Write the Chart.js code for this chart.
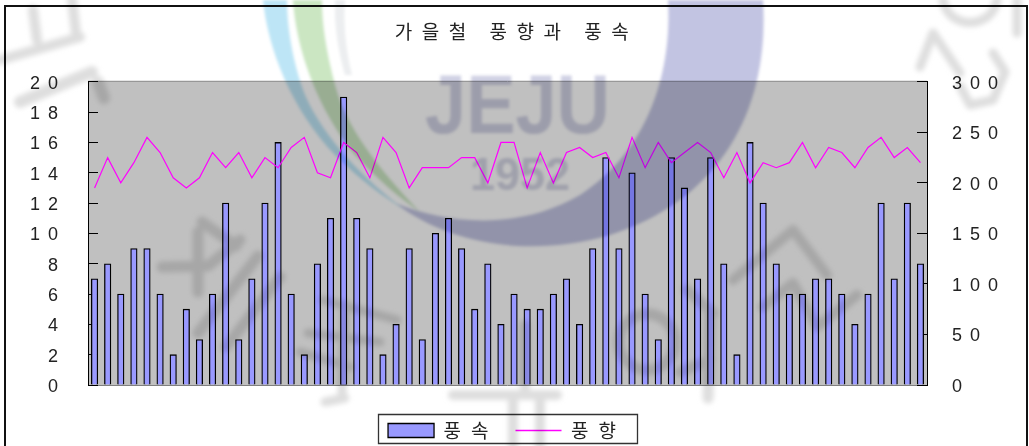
<!DOCTYPE html>
<html lang="ko">
<head>
<meta charset="utf-8">
<title>가을철 풍향과 풍속</title>
<script src="https://cdn.jsdelivr.net/npm/chart.js@4/dist/chart.umd.min.js"></script>
<style>
  html, body { margin: 0; padding: 0; background: #fff; overflow: hidden; }
  #stage { position: relative; width: 1029px; height: 446px; overflow: hidden; }
  #chart { position: absolute; left: 0; top: 0; }
  #seal { position: absolute; left: 0; top: 0; mix-blend-mode: multiply; pointer-events: none; }
</style>
</head>
<body>
<div id="stage">
  <canvas id="chart" width="1029" height="446"></canvas>
  <!-- University seal printed across the whole page -->
  <svg id="seal" width="1029" height="446" viewBox="0 0 1029 446">
    <defs>
      <filter id="soft" x="-5%" y="-5%" width="110%" height="110%"><feGaussianBlur stdDeviation="1.5"/></filter>
      <filter id="softer" x="-5%" y="-5%" width="110%" height="110%"><feGaussianBlur stdDeviation="2.8"/></filter>
    </defs>
    <g filter="url(#soft)">
      <path d="M668 0 C672 70 650 150 580 195 C520 230 450 225 395 203 C450 245 530 258 610 235 C720 200 770 110 763 0 Z" fill="#c2c4e2"/>
      <path d="M263 0 C268 50 292 110 335 155 C360 180 385 198 405 210 C365 180 325 140 305 95 C292 60 287 25 287 0 Z" fill="#bde5f6"/>
      <path d="M293 0 C296 50 318 110 355 155 C378 180 400 198 420 212 C390 180 348 135 335 85 C326 50 322 25 322 0 Z" fill="#cbe6c2"/>
      <path d="M335 0 C334 25 338 50 345 75 L352 75 C346 50 343 25 345 0 Z" fill="#eceef0"/>
      <text x="425" y="133" font-family="Liberation Sans" font-weight="700" font-size="84" textLength="185" lengthAdjust="spacingAndGlyphs" fill="#d0d1e4">JEJU</text>
      <text x="470" y="190" font-family="Liberation Sans" font-weight="700" font-size="46" textLength="100" lengthAdjust="spacingAndGlyphs" fill="#d4d5e4">1952</text>
    </g>
    <g filter="url(#softer)" fill="none" stroke="#dedede" stroke-linecap="round" stroke-linejoin="round">
      <path stroke-width="10" d="M33 10 L37 40 M0 60 L80 37 M72 0 L76 33"/>
      <path stroke-width="12" d="M20 102 L92 72 M98 82 L104 98"/>
      <path stroke-width="11" d="M202 222 L236 246 M162 267 L208 266 L240 240 M198 232 L198 292"/>
      <path stroke-width="11" d="M258 256 L198 333 M280 277 L226 347"/>
      <path stroke-width="9" d="M323 300 L397 320 M308 333 L380 342 M300 352 L350 367 M325 402 L345 398 M345 304 L342 395"/>
      <path stroke-width="10" d="M453 395 L557 395 M513 395 L513 446 M540 395 L540 446 M525 325 L525 390"/>
      <circle cx="647" cy="342" r="28" stroke-width="11"/>
      <path stroke-width="10" d="M733 280 L793 230 L827 275 M763 307 L793 283 L817 327 L857 295"/>
      <path stroke-width="11" d="M687 290 L713 313 M710 310 L708 398 M680 372 L710 360"/>
      <path stroke-width="9" d="M920 67 L933 33 L960 73 M993 53 L1005 72 L993 100 L970 105 L960 86"/>
      <path stroke-width="9" d="M943 0 C948 30 992 30 997 0 M1017 0 L1017 33"/>
    </g>
  </svg>
</div>
<script>
const categories = [
  1, 2, 3, 4, 5, 6, 7, 8, 9, 10, 11, 12, 13, 14, 15, 16,
  17, 18, 19, 20, 21, 22, 23, 24, 25, 26, 27, 28, 29, 30, 31, 32,
  33, 34, 35, 36, 37, 38, 39, 40, 41, 42, 43, 44, 45, 46, 47, 48,
  49, 50, 51, 52, 53, 54, 55, 56, 57, 58, 59, 60, 61, 62, 63, 64
];
const windSpeed = [
  7, 8, 6, 9, 9, 6, 2, 5, 3, 6, 12, 3, 7, 12, 16, 6,
  2, 8, 11, 19, 11, 9, 2, 4, 9, 3, 10, 11, 9, 5, 8, 4,
  6, 5, 5, 6, 7, 4, 9, 15, 9, 14, 6, 3, 15, 13, 7, 15,
  8, 2, 16, 12, 8, 6, 6, 7, 7, 6, 4, 6, 12, 7, 12, 8
];
const windDirection = [
  195, 225, 200, 220, 245, 230, 205, 195, 205, 230, 215, 230, 205, 225, 215, 235,
  245, 210, 205, 240, 230, 205, 245, 230, 195, 215, 215, 215, 225, 225, 200, 240,
  240, 195, 230, 200, 230, 235, 225, 230, 205, 245, 215, 240, 220, 230, 240, 230,
  205, 230, 200, 220, 215, 220, 240, 215, 235, 230, 215, 235, 245, 225, 235, 220
];
const speedTicks = { min: 0, max: 20, step: 2 };
const directionTicks = { min: 0, max: 300, step: 50 };

const titleText = '가을철 풍향과 풍속';
const speedLabel = '풍속';
const directionLabel = '풍향';

const tickFont = { family: '"Liberation Sans", sans-serif', size: 18 };
const hangulFont = { family: '"Noto Sans CJK KR", sans-serif', size: 19 };

// Canvas state is reset on resize, so the wide tracking is set again each pass.
const tracking = {
  id: 'tracking',
  beforeUpdate(chart) { chart.ctx.letterSpacing = '8px'; },
  beforeLayout(chart) { chart.ctx.letterSpacing = '8px'; },
  afterLayout(chart) {
    // Nudge the title and legend off the plot centre and widen their Hangul tracking.
    const { titleBlock, legend } = chart;
    titleBlock.left += 2;
    titleBlock.right += 2;
    legend.left -= 11.5;
    legend.right -= 11.5;
    legend.top += 4;
    legend.bottom += 4;
    [titleBlock, legend].forEach((box) => {
      if (box.wideTracking) return;
      box.wideTracking = true;
      const draw = box.draw;
      box.draw = function (...args) {
        chart.ctx.letterSpacing = box === titleBlock ? '9.5px' : '10px';
        draw.apply(this, args);
        chart.ctx.letterSpacing = '8px';
      };
    });
  },
  beforeDraw(chart) { chart.ctx.letterSpacing = '8px'; }
};

// Sheet frame, grey plot panel and the box round the legend.
const sheet = {
  id: 'sheet',
  beforeDraw(chart) {
    const { ctx, chartArea: a } = chart;
    ctx.save();
    ctx.fillStyle = '#ffffff';
    ctx.fillRect(0, 0, chart.width, chart.height);
    ctx.strokeStyle = '#111111';
    ctx.lineWidth = 2;
    ctx.strokeRect(5, 6, 1022, 460);
    ctx.fillStyle = '#c0c0c0';
    ctx.fillRect(a.left, a.top, a.right - a.left, a.bottom - a.top);
    ctx.strokeStyle = '#808080';
    ctx.lineWidth = 1;
    ctx.beginPath();
    ctx.moveTo(a.left, a.top - 0.5);
    ctx.lineTo(a.right, a.top - 0.5);
    ctx.moveTo(a.left, a.bottom + 0.5);
    ctx.lineTo(a.right, a.bottom + 0.5);
    ctx.stroke();
    ctx.strokeStyle = '#333333';
    ctx.lineWidth = 1.3;
    ctx.fillStyle = '#ffffff';
    ctx.beginPath();
    ctx.rect(378.5, 414.5, 259, 29);
    ctx.fill();
    ctx.stroke();
    ctx.restore();
  }
};

new Chart(document.getElementById('chart'), {
  data: {
    labels: categories,
    datasets: [
      {
        type: 'line',
        label: directionLabel,
        data: windDirection,
        yAxisID: 'direction',
        borderColor: '#ff00ff',
        backgroundColor: '#ff00ff',
        borderWidth: 1.2,
        pointRadius: 0,
        tension: 0,
        order: 1
      },
      {
        type: 'bar',
        label: speedLabel,
        data: windSpeed,
        yAxisID: 'speed',
        backgroundColor: '#9999ff',
        borderColor: '#000000',
        borderWidth: 1.3,
        barThickness: 6.5,
        order: 2
      }
    ]
  },
  options: {
    responsive: false,
    animation: false,
    layout: { padding: { top: 16, left: 0, right: 0, bottom: 0 } },
    plugins: {
      tooltip: { enabled: false },
      title: {
        display: true,
        text: titleText,
        color: '#222222',
        font: { ...hangulFont, weight: 'normal' },
        padding: { top: 4, bottom: 39 }
      },
      legend: {
        position: 'bottom',
        reverse: true,
        labels: {
          color: '#222222',
          font: { ...hangulFont },
          usePointStyle: true,
          pointStyle: 'rect',
          pointStyleWidth: 46,
          boxHeight: 14,
          padding: 17,
          generateLabels(chart) {
            return chart.data.datasets.map((d, i) => ({
              text: d.label,
              datasetIndex: i,
              fillStyle: d.backgroundColor,
              strokeStyle: d.type === 'bar' ? '#000000' : d.borderColor,
              lineWidth: d.type === 'bar' ? 1.3 : 1.5,
              pointStyle: d.type === 'bar' ? 'rect' : 'line',
              fontColor: '#222222'
            }));
          }
        }
      }
    },
    scales: {
      x: {
        grid: { display: false },
        border: { display: false },
        ticks: { display: false },
        afterFit(scale) { scale.height = 15; }
      },
      speed: {
        position: 'left',
        min: speedTicks.min,
        max: speedTicks.max,
        z: 1,
        border: { display: true, color: '#000000', width: 1 },
        grid: { drawOnChartArea: false, drawTicks: true, tickLength: -10, tickColor: '#000000' },
        ticks: { stepSize: speedTicks.step, font: tickFont, color: '#222222', padding: 32, labelOffset: 2, maxRotation: 0 },
        afterFit(scale) { scale.width = 88; }
      },
      direction: {
        position: 'right',
        min: directionTicks.min,
        max: directionTicks.max,
        z: 1,
        border: { display: true, color: '#000000', width: 1 },
        grid: { drawOnChartArea: false, drawTicks: true, tickLength: -10, tickColor: '#000000' },
        ticks: { stepSize: directionTicks.step, font: tickFont, color: '#222222', padding: 35, labelOffset: 2, maxRotation: 0 },
        afterFit(scale) { scale.width = 102; }
      }
    }
  },
  plugins: [tracking, sheet]
});
</script>
</body>
</html>
